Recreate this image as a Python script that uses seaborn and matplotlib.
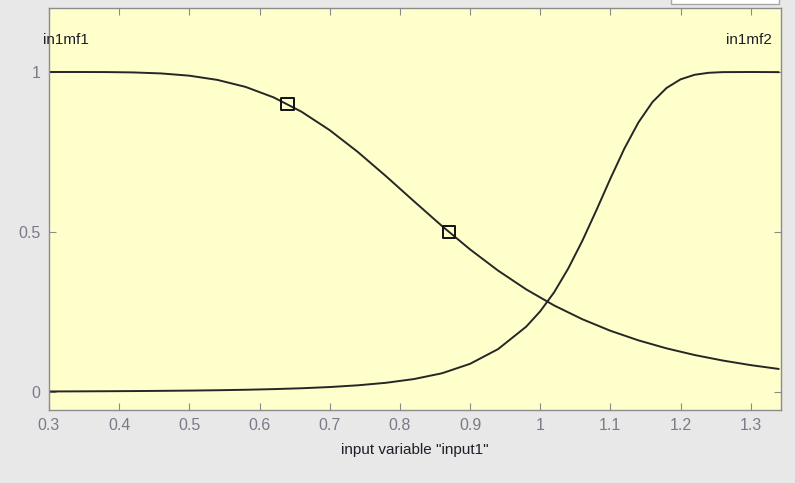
import matplotlib
matplotlib.use("Agg")
import matplotlib.pyplot as plt
import seaborn as sns
import pandas as pd
from matplotlib.patches import Rectangle

# ---- data ----
mf1_x = [0.30, 0.34, 0.38, 0.42, 0.46, 0.50, 0.54, 0.58, 0.62, 0.66, 0.70, 0.74,
         0.78, 0.82, 0.86, 0.90, 0.94, 0.98, 1.02, 1.06, 1.10, 1.14, 1.18, 1.22,
         1.26, 1.30, 1.34]
mf1_y = [1.0000, 1.0000, 0.9998, 0.9987, 0.9955, 0.9885, 0.9753, 0.9535, 0.9208,
         0.8757, 0.8183, 0.7503, 0.6749, 0.5963, 0.5188, 0.4457, 0.3794, 0.3208,
         0.2703, 0.2275, 0.1914, 0.1614, 0.1364, 0.1156, 0.0984, 0.0840, 0.0720]

mf2_x = [0.30, 0.34, 0.38, 0.42, 0.46, 0.50, 0.54, 0.58, 0.62, 0.66, 0.70, 0.74,
         0.78, 0.82, 0.86, 0.90, 0.94, 0.98, 1.00, 1.02, 1.04, 1.06, 1.08, 1.10,
         1.12, 1.14, 1.16, 1.18, 1.20, 1.22, 1.24, 1.26, 1.30, 1.34]
mf2_y = [0.0017, 0.0020, 0.0024, 0.0029, 0.0036, 0.0044, 0.0055, 0.0070, 0.0090,
         0.0117, 0.0155, 0.0209, 0.0287, 0.0404, 0.0585, 0.0880, 0.1340, 0.2040,
         0.2520, 0.3120, 0.3860, 0.4721, 0.5676, 0.6665, 0.7608, 0.8424, 0.9060,
         0.9500, 0.9770, 0.9913, 0.9975, 0.9996, 1.0000, 0.9996]

point_x = [0.64, 0.87]
point_y = [0.90, 0.50]

mf_names = ["in1mf1", "in1mf2"]
xticks = [0.3, 0.4, 0.5, 0.6, 0.7, 0.8, 0.9, 1.0, 1.1, 1.2, 1.3]
xtick_labels = ["0.3", "0.4", "0.5", "0.6", "0.7", "0.8", "0.9", "1", "1.1", "1.2", "1.3"]
yticks = [0, 0.5, 1]
ytick_labels = ["0", "0.5", "1"]
x_label = 'input variable "input1"'

# ---- style ----
sns.set_theme(style="ticks")
plt.rcParams["font.family"] = ["Liberation Sans", "DejaVu Sans"]

W, H = 795, 483
fig = plt.figure(figsize=(W / 100, H / 100), dpi=100, facecolor="#e8e8e8")
L, R, T, B = 49, 781, 8, 410
ax = fig.add_axes([L / W, 1 - B / H, (R - L) / W, (B - T) / H])
ax.set_facecolor("#ffffcc")

line_col = "#262626"
df1 = pd.DataFrame({"x": mf1_x, "y": mf1_y})
df2 = pd.DataFrame({"x": mf2_x, "y": mf2_y})
sns.lineplot(data=df1, x="x", y="y", ax=ax, color=line_col, lw=1.4,
             estimator=None, sort=False)
sns.lineplot(data=df2, x="x", y="y", ax=ax, color=line_col, lw=1.4,
             estimator=None, sort=False)
dfp = pd.DataFrame({"x": point_x, "y": point_y})
sns.scatterplot(data=dfp, x="x", y="y", ax=ax, marker="s", s=85,
                facecolor="none", edgecolor="#111111", linewidth=1.4, zorder=5)

ax.set_xlim(0.3, 1.3432)
ax.set_ylim(-0.05625, 1.2)
ax.set_xticks(xticks)
ax.set_xticklabels(xtick_labels)
ax.set_yticks(yticks)
ax.set_yticklabels(ytick_labels)

tick_col = "#8a8a8a"
label_col = "#7a7a88"
ax.tick_params(axis="both", direction="in", length=5, width=0.8, color=tick_col,
               labelcolor=label_col, labelsize=11.5, top=True, right=True)
ax.tick_params(axis="x", pad=6)
ax.tick_params(axis="y", pad=6)
for s in ax.spines.values():
    s.set_visible(True)
    s.set_color("#8c8c8c")
    s.set_linewidth(1.0)

ax.set_xlabel(x_label, fontsize=11, color="#1e1e28", labelpad=7)
ax.set_ylabel("")

ax.text(0.2915, 1.1, mf_names[0], ha="left", va="center", fontsize=11, color="#1e1e28")
ax.text(1.330, 1.1, mf_names[1], ha="right", va="center", fontsize=11, color="#1e1e28")

# white box partially visible at top right
fig.add_artist(Rectangle((671 / W, 1 - 4 / H), (779 - 671) / W, 10 / H,
                         transform=fig.transFigure, facecolor="white",
                         edgecolor="#a8a8a8", linewidth=1.0, clip_on=False))

fig.savefig("out.png", dpi=100, facecolor=fig.get_facecolor())
